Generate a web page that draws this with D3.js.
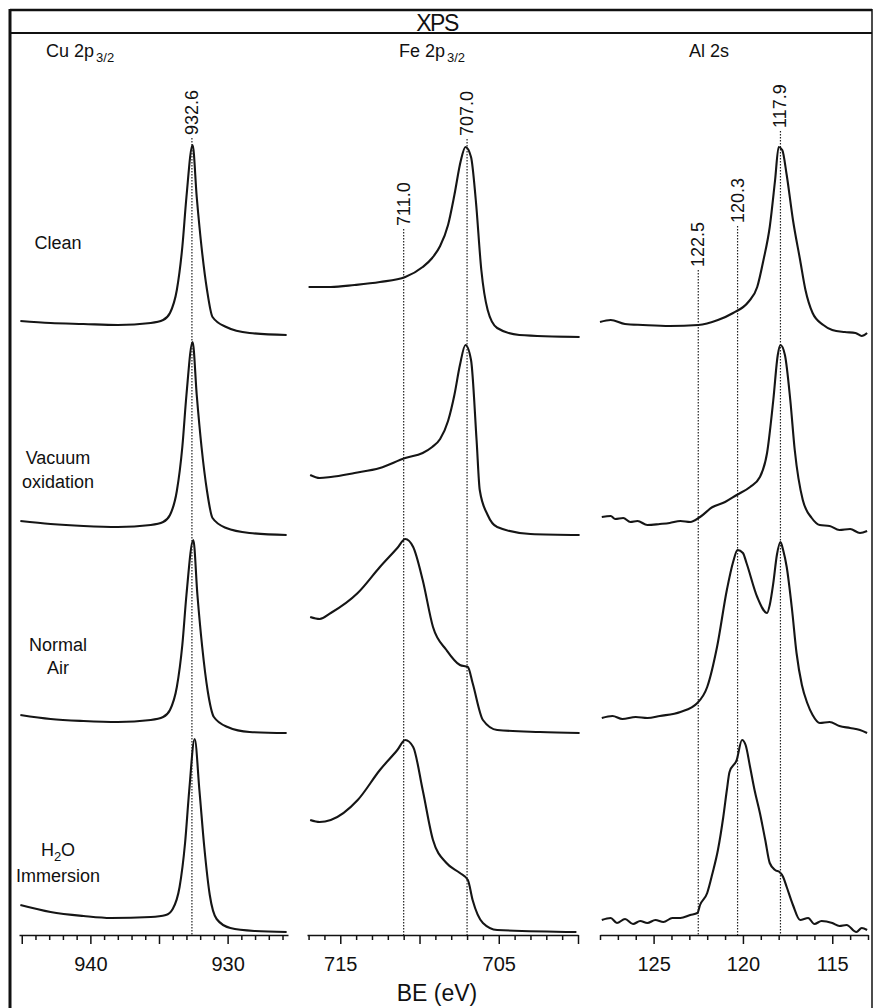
<!DOCTYPE html>
<html>
<head>
<meta charset="utf-8">
<script src="https://cdn.jsdelivr.net/npm/d3@7"></script>
<style>
  body { margin: 0; background: #fff; }
  svg { display: block; }
  text { font-family: "Liberation Sans", Arial, sans-serif; fill: #111; }
  .spec { fill: none; stroke: #151515; stroke-width: 2.1; stroke-linejoin: round; }
  .ref { stroke: #222; stroke-width: 1.2; stroke-dasharray: 1.5,1.5; }
  .axis path, .axis line { stroke: #111; stroke-width: 1.5; }
</style>
</head>
<body>
<svg id="chart"></svg>
<script>
// sample treatments, top to bottom
const treatments = [["Clean"], ["Vacuum", "oxidation"], ["Normal", "Air"], ["H2O", "Immersion"]];

// binding energy ranges (eV), high BE on the left
const cuDomain = [945.2, 925.6];
const feDomain = [717.1, 700.0];
const alDomain = [128.0, 113.0];

const cuTicks = d3.range(926, 946);
const feTicks = d3.range(700, 718);
const alTicks = d3.range(113, 129);
const cuLabels = [940, 930];
const feLabels = [715, 705];
const alLabels = [125, 120, 115];

// marked peak positions
const cuPeaks = [932.6];
const fePeaks = [711.0, 707.0];
const alPeaks = [122.5, 120.3, 117.9];

// spectra: [BE (eV), normalised intensity]
const cuClean = [[945.1,0.07],[942.9,0.06],[940.5,0.055],[938.0,0.05],[935.6,0.06],[934.7,0.075],[934.2,0.11],[933.7,0.225],[933.3,0.44],[933.0,0.69],[932.55,0.95],[932.25,0.69],[931.9,0.44],[931.5,0.225],[931.1,0.09],[930.1,0.04],[928.4,0.01],[925.7,0.0]];
const cuVacuum = [[945.1,0.07],[942.9,0.055],[940.5,0.045],[938.0,0.04],[935.6,0.05],[934.7,0.065],[934.2,0.1],[933.7,0.22],[933.3,0.44],[933.0,0.7],[932.55,0.965],[932.25,0.7],[931.9,0.44],[931.5,0.22],[931.1,0.085],[930.1,0.035],[928.4,0.01],[925.7,0.0]];
const cuAir = [[945.1,0.1],[942.9,0.08],[940.5,0.07],[938.0,0.065],[935.6,0.075],[934.7,0.09],[934.2,0.125],[933.7,0.24],[933.3,0.45],[933.0,0.7],[932.5,0.975],[932.2,0.7],[931.85,0.44],[931.45,0.22],[931.0,0.09],[930.0,0.04],[928.4,0.015],[925.7,0.01]];
const cuWater = [[945.1,0.15],[942.9,0.115],[940.5,0.095],[938.5,0.085],[935.6,0.09],[934.5,0.1],[934.0,0.13],[933.5,0.24],[933.1,0.46],[932.8,0.72],[932.4,0.98],[932.05,0.72],[931.7,0.44],[931.3,0.2],[930.8,0.08],[929.8,0.035],[928.0,0.02],[925.7,0.015]];

const feClean = [[717.0,0.24],[715.6,0.24],[714.1,0.25],[712.5,0.265],[710.9,0.29],[709.8,0.34],[709.2,0.385],[708.7,0.445],[708.2,0.55],[707.8,0.7],[707.4,0.87],[707.1,0.94],[706.75,0.89],[706.45,0.675],[706.1,0.325],[705.7,0.125],[705.1,0.035],[703.7,0.0],[699.9,-0.01]];
const feVacuum = [[716.9,0.3],[716.3,0.285],[715.6,0.29],[714.1,0.31],[712.5,0.335],[710.9,0.385],[709.8,0.41],[709.2,0.44],[708.7,0.48],[708.2,0.57],[707.8,0.7],[707.45,0.85],[707.1,0.95],[706.75,0.875],[706.4,0.475],[706.2,0.225],[705.7,0.1],[705.1,0.04],[703.0,0.005],[699.9,0.0]];
const feAir = [[716.9,0.59],[716.3,0.58],[715.6,0.61],[713.9,0.71],[712.5,0.84],[711.4,0.935],[710.9,0.98],[710.4,0.94],[709.8,0.775],[709.15,0.54],[708.3,0.425],[707.45,0.35],[706.95,0.34],[706.65,0.26],[706.0,0.075],[705.1,0.025],[702.4,0.015],[699.9,0.01]];
const feWater = [[716.9,0.575],[716.3,0.565],[715.6,0.575],[713.9,0.675],[712.5,0.825],[711.4,0.925],[710.9,0.975],[710.4,0.94],[709.8,0.725],[709.15,0.475],[708.3,0.36],[707.45,0.31],[706.95,0.275],[706.65,0.175],[706.0,0.06],[705.1,0.025],[700.1,0.015]];

const alClean = [[128.0,0.065],[127.4,0.075],[126.6,0.055],[125.6,0.05],[124.1,0.045],[122.5,0.05],[121.4,0.075],[120.55,0.11],[119.7,0.165],[119.2,0.24],[118.85,0.375],[118.5,0.54],[118.2,0.775],[118.0,0.94],[117.8,0.925],[117.55,0.8],[117.2,0.575],[116.8,0.375],[116.5,0.225],[116.1,0.11],[115.5,0.05],[115.0,0.025],[114.3,0.015],[113.7,0.01],[113.35,-0.005],[113.05,0.01]];
const alVacuum = [[127.9,0.09],[127.4,0.095],[127.15,0.08],[126.7,0.085],[126.3,0.065],[125.9,0.07],[125.35,0.05],[124.65,0.055],[124.1,0.06],[123.5,0.07],[122.95,0.065],[122.4,0.09],[121.7,0.14],[121.0,0.165],[120.35,0.2],[119.6,0.24],[119.05,0.29],[118.65,0.41],[118.3,0.675],[118.05,0.9],[117.9,0.95],[117.65,0.9],[117.35,0.675],[117.1,0.425],[116.65,0.175],[116.15,0.085],[115.7,0.05],[115.15,0.045],[114.6,0.025],[114.0,0.03],[113.45,0.01],[113.05,0.02]];
const alAir = [[127.9,0.085],[127.3,0.095],[126.75,0.08],[126.0,0.09],[125.35,0.085],[124.65,0.095],[123.5,0.115],[122.55,0.16],[122.0,0.24],[121.45,0.44],[120.9,0.725],[120.55,0.865],[120.3,0.925],[120.0,0.91],[119.8,0.86],[119.2,0.69],[118.65,0.61],[118.5,0.65],[118.3,0.76],[118.1,0.9],[117.9,0.965],[117.75,0.925],[117.55,0.84],[117.25,0.625],[117.0,0.41],[116.7,0.25],[116.4,0.16],[116.1,0.1],[115.7,0.06],[115.15,0.065],[114.6,0.045],[114.0,0.035],[113.45,0.025],[113.05,0.01]];
const alWater = [[127.9,0.075],[127.4,0.085],[127.05,0.06],[126.6,0.08],[126.15,0.055],[125.75,0.07],[125.35,0.06],[124.9,0.075],[124.45,0.065],[123.95,0.085],[123.5,0.085],[122.95,0.1],[122.55,0.11],[122.4,0.15],[122.0,0.21],[121.7,0.31],[121.4,0.425],[121.1,0.59],[120.9,0.725],[120.75,0.815],[120.35,0.875],[120.05,0.975],[119.85,0.95],[119.6,0.84],[119.35,0.725],[119.05,0.61],[118.75,0.475],[118.5,0.36],[118.2,0.325],[117.95,0.315],[117.75,0.29],[117.55,0.24],[117.2,0.15],[116.8,0.075],[116.35,0.085],[116.0,0.055],[115.6,0.07],[115.0,0.06],[114.6,0.045],[114.2,0.05],[113.65,0.015],[113.35,0.035],[113.05,0.025]];

const panels = [
  {name: "Cu 2p", sub: "3/2", domain: cuDomain, x0: 19, x1: 288, ticks: cuTicks, labels: cuLabels,
   peaks: cuPeaks, labelBottom: [135], spectra: [cuClean, cuVacuum, cuAir, cuWater], hx: 46},
  {name: "Fe 2p", sub: "3/2", domain: feDomain, x0: 307, x1: 578, ticks: feTicks, labels: feLabels,
   peaks: fePeaks, labelBottom: [226, 136], spectra: [feClean, feVacuum, feAir, feWater], hx: 399},
  {name: "Al 2s", sub: null, domain: alDomain, x0: 600, x1: 868, ticks: alTicks, labels: alLabels,
   peaks: alPeaks, labelBottom: [267, 223, 128], spectra: [alClean, alVacuum, alAir, alWater], hx: 689}
];

const W = 874, H = 1008;
const AXIS_Y = 935;
const svg = d3.select("#chart").attr("width", W).attr("height", H);

// stacked offset: 1 unit per spectrum
const y = d3.scaleLinear().domain([0, 4]).range([AXIS_Y, AXIS_Y - 800]);

// frame
svg.append("line").attr("x1", 10).attr("x2", 872).attr("y1", 10).attr("y2", 10).attr("stroke", "#111").attr("stroke-width", 2.5);
svg.append("line").attr("x1", 10).attr("x2", 872).attr("y1", 33).attr("y2", 33).attr("stroke", "#111").attr("stroke-width", 1.8);
svg.append("line").attr("x1", 10).attr("x2", 10).attr("y1", 9).attr("y2", H).attr("stroke", "#111").attr("stroke-width", 3);
svg.append("line").attr("x1", 872).attr("x2", 872).attr("y1", 9).attr("y2", H).attr("stroke", "#111").attr("stroke-width", 1.5);

svg.append("text").attr("x", 437).attr("y", 31).attr("text-anchor", "middle")
  .style("font-size", "23px").style("letter-spacing", "-1.5px").text("XPS");

panels.forEach(p => {
  const x = d3.scaleLinear().domain(p.domain).range([p.x0, p.x1]);
  const g = svg.append("g");

  // header
  const h = g.append("text").attr("x", p.hx).attr("y", 57).style("font-size", "18px").text(p.name);
  if (p.sub) h.append("tspan").attr("dx", 2).attr("dy", 5).style("font-size", "13px").text(p.sub);

  // reference lines
  p.peaks.forEach((pk, i) => {
    g.append("line").attr("class", "ref")
      .attr("x1", x(pk)).attr("x2", x(pk))
      .attr("y1", p.labelBottom[i] + 3).attr("y2", AXIS_Y);
    g.append("text")
      .attr("transform", `translate(${x(pk) + 6},${p.labelBottom[i]}) rotate(-90)`)
      .style("font-size", "18px")
      .text(pk.toFixed(1));
  });

  // spectra
  const line = d3.line()
    .x(d => x(d[0]))
    .curve(d3.curveMonotoneX);
  p.spectra.forEach((s, r) => {
    line.y(d => y(d[1] + 3 - r));
    g.append("path").attr("class", "spec").attr("d", line(s));
  });

  // axis
  g.append("g").attr("class", "axis").attr("transform", `translate(0,${AXIS_Y})`)
    .call(d3.axisBottom(x).tickValues(p.ticks.filter(t => t % 5 !== 0)).tickSize(5).tickFormat("").tickSizeOuter(0));
  g.append("g").attr("class", "axis").attr("transform", `translate(0,${AXIS_Y})`)
    .call(d3.axisBottom(x).tickValues(p.ticks.filter(t => t % 5 === 0)).tickSize(9).tickSizeOuter(0)
      .tickFormat(t => p.labels.includes(t) ? t : ""))
    .call(a => a.selectAll("text").style("font-size", "20px").attr("dy", "1.2em"))
    .call(a => a.select(".domain").remove());
});

// row labels
const rowY = [[243], [458, 482], [645, 668], [850, 876]];
treatments.forEach((lines, r) => {
  lines.forEach((t, k) => {
    const el = svg.append("text").attr("x", 58).attr("y", rowY[r][k] + 6)
      .attr("text-anchor", "middle").style("font-size", "18px");
    if (t === "H2O") {
      el.text("H");
      el.append("tspan").attr("dy", 5).style("font-size", "13px").text("2");
      el.append("tspan").attr("dy", -5).text("O");
    } else el.text(t);
  });
});

svg.append("text").attr("x", 437).attr("y", 1001).attr("text-anchor", "middle")
  .style("font-size", "23px").text("BE (eV)");
</script>
</body>
</html>
